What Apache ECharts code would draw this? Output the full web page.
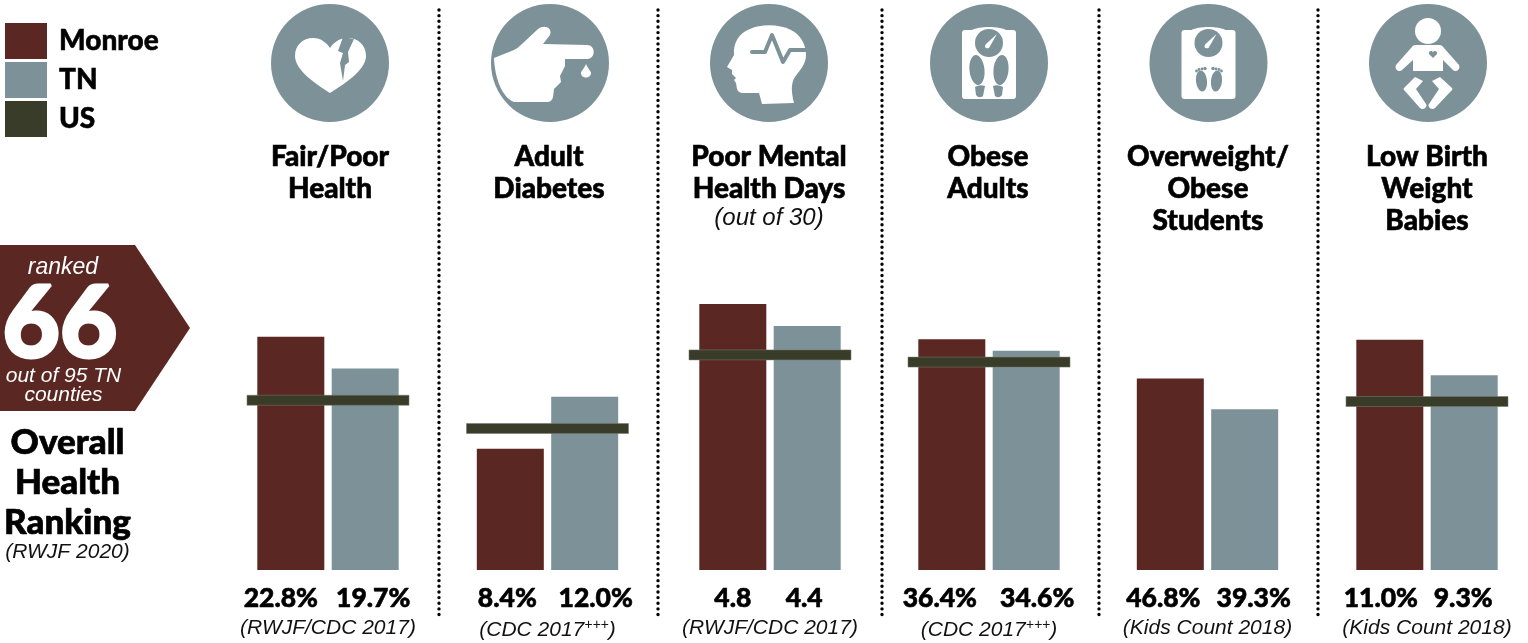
<!DOCTYPE html>
<html>
<head>
<meta charset="utf-8">
<style>html,body{margin:0;padding:0;background:#fff}#c{width:1528px;height:643px}</style>
<script src="https://cdn.jsdelivr.net/npm/echarts@6/dist/echarts.min.js"></script>
</head>
<body>
<div id="c"></div>
<script>
// ---- data ----
const seriesNames = ['Monroe', 'TN', 'US'];
const metrics = ['Fair/Poor\nHealth', 'Adult\nDiabetes', 'Poor Mental\nHealth Days', 'Obese\nAdults', 'Overweight/\nObese\nStudents', 'Low Birth\nWeight\nBabies'];
const monroe = [22.8, 8.4, 4.8, 36.4, 46.8, 11.0];
const tn = [19.7, 12.0, 4.4, 34.6, 39.3, 9.3];
const us = [16.6, 9.8, 3.88, 32.8, null, 8.05];
const valueSuffix = ['%', '%', '', '%', '%', '%'];
const sources = ['(RWJF/CDC 2017)', '(CDC 2017{s|+++})', '(RWJF/CDC 2017)', '(CDC 2017{s|+++})', '(Kids Count 2018)', '(Kids Count 2018)'];

// ---- layout (separate from the data) ----
const panelCentres = [328, 547.5, 770, 989, 1207.5, 1427];
const axisMax = [26.4, 18.7, 4.87, 42.6, 66, 12.9];
const labelShiftM = [-10, -3, 0, -12, -7, -9];
const labelShiftT = [8, 11, -3, 11, 9, -1];
const titleCentres = [330, 549, 769, 988, 1208, 1427];
const iconCentres = [330, 550, 769, 989, 1208.5, 1428];
const dividerX = [439, 658, 882, 1099, 1318];

const MAROON = '#5a2722', TEAL = '#7c9298', OLIVE = '#383c28';
const HEAD = 'Lato, "Noto Sans", sans-serif';
const ITAL = '"Liberation Sans", Arial, sans-serif';
const GRID_TOP = 300, GRID_BOTTOM = 570, GRID_W = 162;

const grids = [], xAxes = [], yAxes = [], series = [], titles = [];
metrics.forEach((m, i) => {
  grids.push({left: panelCentres[i] - GRID_W / 2, width: GRID_W, top: GRID_TOP, height: GRID_BOTTOM - GRID_TOP, outerBoundsMode: 'none'});
  xAxes.push({
    type: 'category', gridIndex: i, data: [m.replace(/\n/g, ' ')],
    axisLine: {show: false}, axisTick: {show: false}, axisLabel: {show: false},
    name: sources[i], nameLocation: 'middle', nameGap: 48,
    nameTextStyle: {
      fontFamily: ITAL, fontStyle: 'italic', fontSize: 21, color: '#111',
      rich: {s: {fontFamily: ITAL, fontStyle: 'italic', fontSize: 14, color: '#111', verticalAlign: 'top', padding: [0, 0, 10, 0]}}
    }
  });
  yAxes.push({type: 'value', gridIndex: i, min: 0, max: axisMax[i], show: false, splitLine: {show: false}});
  const barLabel = (shift) => ({
    show: true, position: 'bottom', distance: 15, offset: [shift, 0],
    formatter: (p) => p.value.toFixed(1) + valueSuffix[i],
    fontFamily: HEAD, fontWeight: 900, fontSize: 26.5, color: '#000', textBorderColor: '#000', textBorderWidth: 0.6
  });
  series.push({
    name: 'Monroe', type: 'bar', xAxisIndex: i, yAxisIndex: i, data: [monroe[i]], barWidth: 67, barGap: '11%',
    itemStyle: {color: MAROON}, label: barLabel(labelShiftM[i]), silent: true
  });
  series.push({
    name: 'TN', type: 'bar', xAxisIndex: i, yAxisIndex: i, data: [tn[i]], barWidth: 67, barGap: '11%',
    itemStyle: {color: TEAL}, label: barLabel(labelShiftT[i]), silent: true
  });
  series.push({
    name: 'US', type: 'custom', xAxisIndex: i, yAxisIndex: i, clip: false, z: 5, silent: true,
    itemStyle: {color: OLIVE},
    encode: {x: 0, y: 1},
    data: us[i] == null ? [] : [[0, us[i]]],
    renderItem: (params, api) => {
      const pt = api.coord([0, api.value(1)]);
      const cs = params.coordSys;
      return {
        type: 'rect',
        shape: {x: cs.x, y: pt[1] - 5, width: cs.width, height: 10},
        style: {fill: OLIVE, stroke: 'rgba(120,120,110,0.55)', lineWidth: 1}
      };
    }
  });
  titles.push({
    text: m, left: titleCentres[i], top: 141, padding: 0, textAlign: 'center',
    textStyle: {fontFamily: HEAD, fontWeight: 900, fontSize: 28, lineHeight: 32, color: '#000', textBorderColor: '#000', textBorderWidth: 0.6}
  });
});

// ---- decoration: dividers, rank badge, icons ----
const gfx = [];
dividerX.forEach(x => gfx.push({
  type: 'line', silent: true, shape: {x1: x, y1: 10, x2: x, y2: 620},
  style: {stroke: '#000', lineWidth: 3.4, lineCap: 'round', lineDash: [0, 5.65]}
}));
gfx.push({type: 'polygon', silent: true, shape: {points: [[0, 245], [135, 245], [190, 328], [135, 411], [0, 411]]}, style: {fill: MAROON}});
const txt = (t, x, y, size, font, weight, style, color, border) => ({
  type: 'text', silent: true, x, y, z: 10,
  style: {text: t, fill: color, font: `${style} ${weight} ${size}px ${font}`, textAlign: 'center', textVerticalAlign: 'middle',
    stroke: border ? color : null, lineWidth: border || 0}
});
gfx.push(txt('ranked', 63, 268, 23, ITAL, 'normal', 'italic', '#fff'));
gfx.push(txt('66', 60, 325, 99, HEAD, 900, 'normal', '#fff', 3));
gfx.push(txt('out of 95 TN', 63.5, 376, 21, ITAL, 'normal', 'italic', '#fff'));
gfx.push(txt('counties', 63.5, 395, 21, ITAL, 'normal', 'italic', '#fff'));
gfx.push(txt('Overall', 67.5, 443, 35, HEAD, 900, 'normal', '#000', 0.7));
gfx.push(txt('Health', 67.5, 483, 35, HEAD, 900, 'normal', '#000', 0.7));
gfx.push(txt('Ranking', 67.5, 523, 35, HEAD, 900, 'normal', '#000', 0.7));
gfx.push(txt('(RWJF 2020)', 67.5, 552, 21, ITAL, 'normal', 'italic', '#111'));
gfx.push(txt('(out of 30)', 769, 218, 24, ITAL, 'normal', 'italic', '#111'));

const W = {fill: '#fff'}, T = {fill: TEAL};
let shapeCount = 0;
const p = (d, style, extra) => {
  const name = 'iconShape' + (shapeCount++);
  echarts.graphic.registerShape(name, echarts.graphic.extendPath(d, {}));
  return Object.assign({type: name, silent: true, style}, extra || {});
};
const c = (cx, cy, r, style) => ({type: 'circle', silent: true, shape: {cx, cy, r}, style});
const ell = (cx, cy, rx, ry, style, rotation) => p(
  `M0,${-ry} C${rx * 0.55},${-ry} ${rx},${-ry * 0.55} ${rx},0 C${rx},${ry * 0.55} ${rx * 0.55},${ry} 0,${ry} C${-rx * 0.55},${ry} ${-rx},${ry * 0.55} ${-rx},0 C${-rx},${-ry * 0.55} ${-rx * 0.55},${-ry} 0,${-ry}Z`,
  style, {x: cx, y: cy, rotation: rotation || 0});
const scaleBody = () => [
  p('M-24,-33 L-17,-33 C-10,-37 10,-37 17,-33 L24,-33 Q27,-33 27,-30 L27,33 Q27,36 24,36 L-24,36 Q-27,36 -27,33 L-27,-30 Q-27,-33 -24,-33Z', W),
  c(0, -20, 14, T),
  p('M-3,-19 L8,-29 L0,-15 Q-3,-14 -4,-16 Q-4,-18 -3,-19Z', W)
];
const icons = [
  [
    p('M0,30 C-12,22 -35,8 -35,-7 C-35,-18 -27,-25 -17,-25 C-9,-25 -3,-20 0,-15 C3,-20 9,-25 18,-25 C28,-25 36,-18 36,-7 C36,8 12,22 0,30Z', W),
    p('M13,-26 L8,-12 L13,-10 L10,0 L13,18 L15,2 L19,-1 L18,-11 L24,-24 L13,-26Z', T)
  ],
  [
    p('M-56,-5 L-36,-13 Q-32,-15 -28,-19 L-12,-34 C-6,-39 3,-35 0,-28 L-7,-19 L37,-18 C46,-18 46,-4 37,-4 L15,-4 L15,3 L10,13 L11,19 L4,26 L3,34 Q2,39 -3,39 L-36,39 C-48,34 -55,16 -56,-5Z', W),
    p('M36,1 C38,6 41,8 41,10 C41,16 31,16 31,10 C31,8 34,6 36,1Z', W)
  ],
  [
    p('M-42,4 L-35,-8 C-36,-20 -30,-30 -19,-34 C-8,-39 10,-39 22,-33 C32,-28 37,-18 37,-8 C37,2 30,8 26,14 C22,20 22,28 25,40 L-7,41 L-10,30 L-27,30 C-33,29 -32,24 -33,20 L-35,17 L-33,15 L-37,11 L-37,7Z', W),
    {type: 'polyline', silent: true, shape: {points: [[-17, -11], [-4, -11], [3, -28], [14, -1], [21, -13], [38, -13]]}, style: {stroke: TEAL, lineWidth: 4, fill: null, lineCap: 'round', lineJoin: 'round'}}
  ],
  scaleBody().concat([
    ell(-12, 7, 7.5, 15, T, 0.1), ell(12, 7, 7.5, 15, T, -0.1),
    p('M-14,24 Q-9,21 -4,23 L-6,33 Q-10,36 -13,32 Z', T),
    p('M14,24 Q9,21 4,23 L6,33 Q10,36 13,32 Z', T)
  ]),
  scaleBody().concat([
    ell(-7, 18, 5.5, 10.5, T, 0.1), ell(8, 18, 5.5, 10.5, T, -0.1),
    c(-12, 8, 1.4, T), c(-9.5, 6.5, 1.4, T), c(-6.5, 6, 1.4, T), c(-3.5, 5.5, 1.7, T),
    c(13, 8, 1.4, T), c(10.5, 6.5, 1.4, T), c(7.5, 6, 1.4, T), c(4.5, 5.5, 1.7, T)
  ]),
  [
    c(0, -32, 13, W),
    p('M-13,-18 L12,-18 Q14,-18 16,-15 L31,2 C33,6 28,10 25,7 L15,-3 L15,8 L-15,8 L-15,-3 L-26,7 C-29,10 -34,6 -32,2 L-17,-15 Q-15,-18 -13,-18Z', W),
    p('M5,-5 L1,-9 C0,-12 4,-13 5,-10.5 C6,-13 10,-12 9,-9Z', T),
    p('M-13,14 L-24,25 Q-25,26 -24,27 L-8,45 C-4,48 0,43 -2,41 L-12,26 L-5,18Z', W),
    p('M12,14 L24,25 Q25,26 24,27 L7,45 C3,48 -1,43 1,41 L11,26 L4,18Z', W)
  ]
];
icons.forEach((children, i) => {
  gfx.push(c(iconCentres[i], 63, 59, T));
  gfx.push({type: 'group', x: iconCentres[i], y: 63, silent: true, children});
});

const chart = echarts.init(document.getElementById('c'));
chart.setOption({
  animation: false,
  backgroundColor: '#fff',
  title: titles,
  legend: {
    left: 5, top: 23, padding: 0, orient: 'vertical', itemWidth: 42, itemHeight: 36, itemGap: 3, selectedMode: false,
    data: seriesNames.map(name => ({name, icon: 'rect', itemStyle: {color: {Monroe: MAROON, TN: TEAL, US: OLIVE}[name]}})),
    textStyle: {fontFamily: HEAD, fontWeight: 900, fontSize: 28, color: '#000', padding: [8, 0, 0, 7], textBorderColor: '#000', textBorderWidth: 0.5}
  },
  grid: grids, xAxis: xAxes, yAxis: yAxes, series,
  graphic: {elements: gfx}
});
</script>
</body>
</html>
